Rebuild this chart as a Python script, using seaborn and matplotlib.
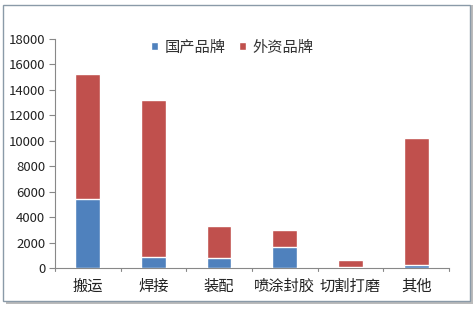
import matplotlib
matplotlib.use("Agg")
import matplotlib.pyplot as plt
import seaborn as sns
import pandas as pd
from matplotlib.patches import Rectangle

categories = ["搬运", "焊接", "装配", "喷涂封胶", "切割打磨", "其他"]
domestic = [5450, 840, 820, 1680, 100, 240]
foreign = [9800, 12340, 2460, 1310, 530, 9980]
yticks = [0, 2000, 4000, 6000, 8000, 10000, 12000, 14000, 16000, 18000]

sns.set_theme(style="white")
plt.rcParams['font.family'] = ['Noto Sans CJK SC', 'DejaVu Sans']

df = pd.DataFrame({"cat": categories, "domestic": domestic, "foreign": foreign})
df["total"] = df["domestic"] + df["foreign"]

fig = plt.figure(figsize=(4.77, 3.10), dpi=100)
# outer frame with shadow
fig.patches.append(Rectangle((0.012, 0.018), 0.980, 0.965, transform=fig.transFigure,
                             facecolor="#bbbbbb", edgecolor="none", zorder=-3))
fig.patches.append(Rectangle((0.006, 0.028), 0.980, 0.955, transform=fig.transFigure,
                             facecolor="white", edgecolor="#8a9aa8", linewidth=1.0, zorder=-2))

ax = fig.add_axes([0.115, 0.135, 0.826, 0.74])
ax.set_facecolor("none")
red = "#C0504D"
blue = "#4F81BD"
sns.barplot(data=df, x="cat", y="total", color=red, width=0.38, ax=ax,
            saturation=1, label="外资品牌", zorder=2)
sns.barplot(data=df, x="cat", y="domestic", color=blue, width=0.38, ax=ax,
            saturation=1, label="国产品牌", zorder=3)

ax.set_xlim(-0.5, len(categories) - 0.5)
ax.set_ylim(0, 18000)
ax.set_yticks(yticks)
ax.set_yticklabels([str(v) for v in yticks], fontsize=9.5, color="#222222")
ax.set_xticks(range(len(categories)))
ax.set_xticklabels(categories, fontsize=11, color="#222222")
ax.tick_params(axis="x", length=0, pad=7)
ax.tick_params(axis="y", length=4, width=0.8, color="#888888", direction="out", left=True, pad=3)
# boundary ticks on x axis
for b in range(len(categories) + 1):
    ax.plot([b - 0.5, b - 0.5], [0, -250], color="#888888", lw=0.8, clip_on=False, zorder=1)
ax.set_xlabel("")
ax.set_ylabel("")
for s in ["top", "right"]:
    ax.spines[s].set_visible(False)
for s in ["left", "bottom"]:
    ax.spines[s].set_color("#888888")
    ax.spines[s].set_linewidth(0.8)

handles, labels = ax.get_legend_handles_labels()
order = [labels.index("国产品牌"), labels.index("外资品牌")]
ax.legend([handles[i] for i in order], [labels[i] for i in order],
          loc="upper center", bbox_to_anchor=(0.45, 1.06), ncol=2, frameon=False,
          fontsize=11, handlelength=0.45, handleheight=0.45, handletextpad=0.4,
          columnspacing=0.9, labelcolor="#333333")

fig.savefig("out.png", dpi=100)
